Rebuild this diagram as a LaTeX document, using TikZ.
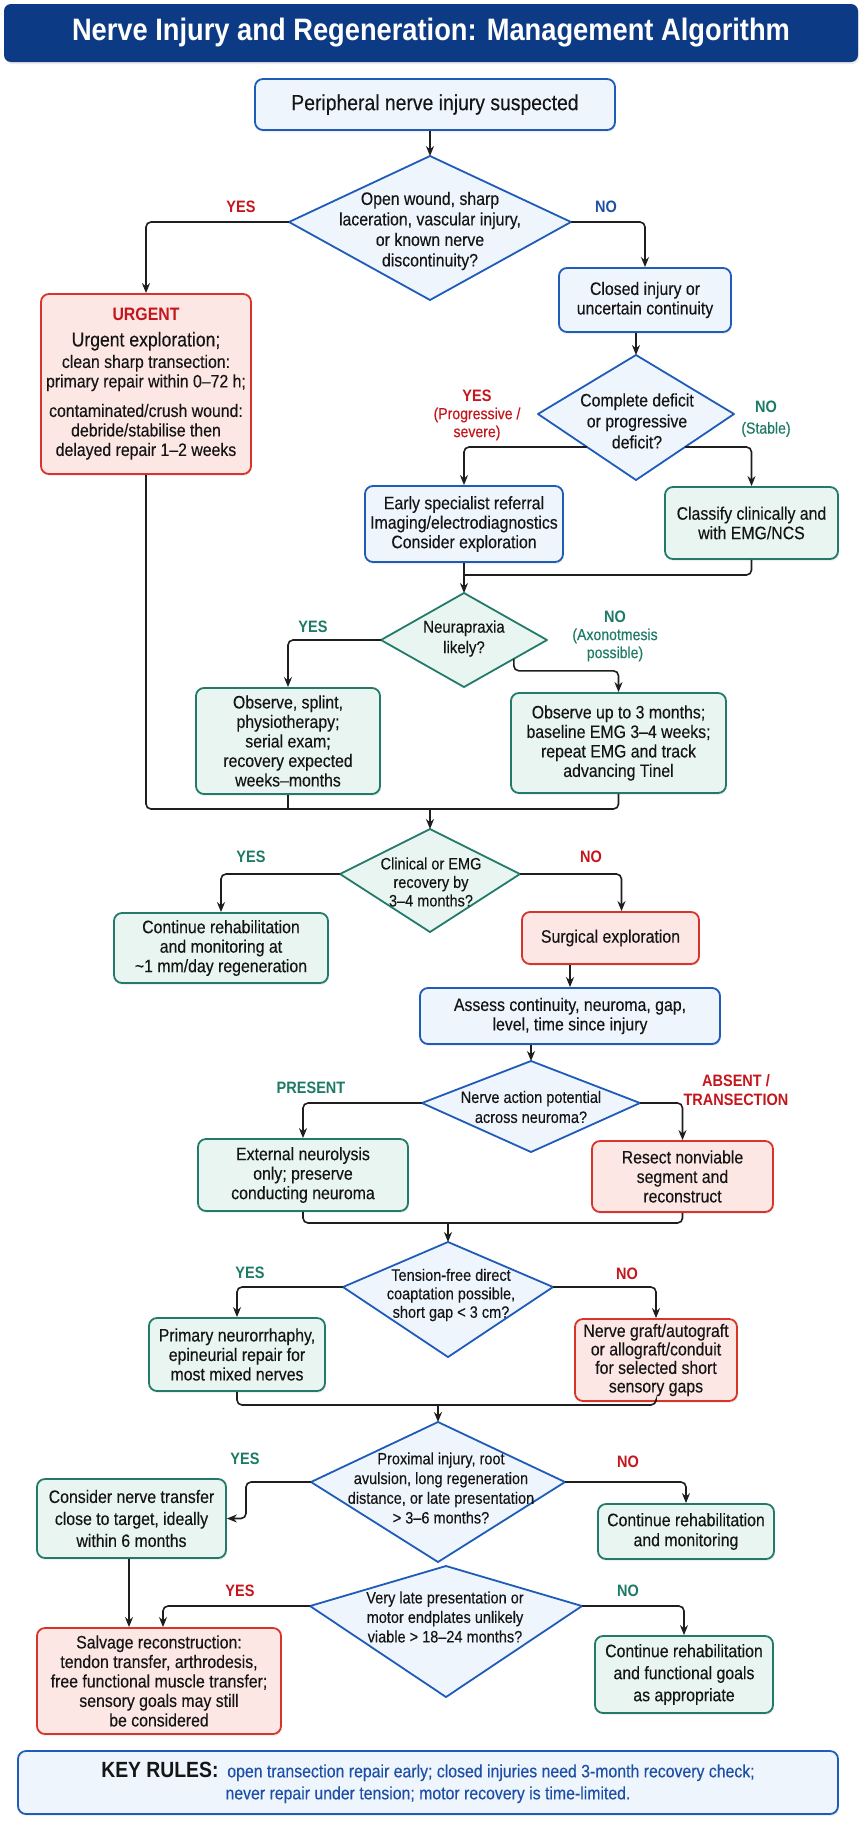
\documentclass[tikz,border=0pt]{standalone}
\usepackage{fontspec}
\setmainfont{Liberation Sans}[FakeStretch=0.88, UprightFeatures={FakeBold=0.25}]
\usetikzlibrary{arrows.meta,calc,shadows}
\definecolor{titleblue}{HTML}{0C3A84}
\definecolor{bline}{HTML}{1F5BB8}
\definecolor{bfill}{HTML}{EEF5FD}
\definecolor{rline}{HTML}{D8342C}
\definecolor{rfill}{HTML}{FCE7E4}
\definecolor{tline}{HTML}{237A6B}
\definecolor{tfill}{HTML}{E8F5F1}
\definecolor{lred}{HTML}{C4161C}
\definecolor{lteal}{HTML}{1D7A66}
\definecolor{lblue}{HTML}{1D4FA6}
\definecolor{txt}{HTML}{151515}
\definecolor{linec}{HTML}{1E1E1E}
\newcommand\fsz[2]{\fontsize{#1}{#2}\selectfont}
% name, cx, cy(of west/east points), half width, top y, bottom y, style
\newcommand\mykite[7]{%
  \coordinate (#1-n) at (#2,#5);
  \coordinate (#1-s) at (#2,#6);
  \coordinate (#1-w) at ({#2-#4},#3);
  \coordinate (#1-e) at ({#2+#4},#3);
  \draw[#7] (#1-n) -- (#1-e) -- (#1-s) -- (#1-w) -- cycle;
}
\begin{document}
\begin{tikzpicture}[x=1pt,y=-1pt,
  nbase/.style={rounded corners=8pt, line width=1.8pt, align=center, inner sep=3pt, text=txt, font=\fsz{18}{19.5},
    drop shadow={shadow xshift=1pt,shadow yshift=-2pt,opacity=0.12}},
  blubox/.style={nbase, draw=bline, fill=bfill},
  redbox/.style={nbase, draw=rline, fill=rfill},
  tealbox/.style={nbase, draw=tline, fill=tfill},
  dblue/.style={draw=bline, fill=bfill, line width=1.8pt, line join=round},
  dteal/.style={draw=tline, fill=tfill, line width=1.8pt, line join=round},
  dtext/.style={align=center, inner sep=0pt, text=txt, font=\fsz{16.5}{20}},
  lab/.style={align=center, inner sep=0pt, font=\bfseries\fsz{16.5}{18}},
  conn/.style={draw=linec, line width=1.6pt, rounded corners=5pt},
  arrw/.style={conn, -{Stealth[length=10pt,width=8pt]}}
]
\fill[white] (0,0) rectangle (864,1821);
\useasboundingbox (0,0) rectangle (864,1821);

% title
\node[fill=titleblue, rounded corners=7pt, minimum width=854pt, minimum height=58pt, text=white,
  font=\bfseries\fsz{31}{34}, inner sep=0pt, drop shadow={shadow xshift=1pt,shadow yshift=-2pt,opacity=0.15}]
  (title) at (431,33) {Nerve Injury and Regeneration: Management Algorithm};

% boxes
\node[blubox, minimum width=360pt, minimum height=51pt, font=\fsz{22}{24}] (P) at (435,104.5) {Peripheral nerve injury suspected};
\node[redbox, minimum width=210pt, minimum height=180pt] (U) at (146,384)
  {{\color{lred}\bfseries URGENT}\\[6pt]{\fsz{20}{21}Urgent exploration;}\\[2pt]clean sharp transection:\\primary repair within 0–72 h;\\[10pt]contaminated/crush wound:\\debride/stabilise then\\delayed repair 1–2 weeks};
\node[blubox, minimum width=172pt, minimum height=64pt] (C) at (645,300) {Closed injury or\\uncertain continuity};
\node[blubox, minimum width=198pt, minimum height=76pt] (E) at (464,524) {Early specialist referral\\Imaging/electrodiagnostics\\Consider exploration};
\node[tealbox, minimum width=173pt, minimum height=72pt] (Cl) at (751.5,523) {Classify clinically and\\with EMG/NCS};
\node[tealbox, minimum width=184pt, minimum height=106pt] (O) at (288,741) {Observe, splint,\\physiotherapy;\\serial exam;\\recovery expected\\weeks–months};
\node[tealbox, minimum width=215pt, minimum height=100pt] (OU) at (618.5,743) {Observe up to 3 months;\\baseline EMG 3–4 weeks;\\repeat EMG and track\\advancing Tinel};
\node[tealbox, minimum width=214pt, minimum height=70pt] (C1) at (221,948) {Continue rehabilitation\\and monitoring at\\\textasciitilde1 mm/day regeneration};
\node[redbox, minimum width=177pt, minimum height=52pt] (S) at (610.5,938) {Surgical exploration};
\node[blubox, minimum width=300pt, minimum height=56pt] (A) at (570,1016) {Assess continuity, neuroma, gap,\\level, time since injury};
\node[tealbox, minimum width=210pt, minimum height=72pt] (X) at (303,1175) {External neurolysis\\only; preserve\\conducting neuroma};
\node[redbox, minimum width=181pt, minimum height=71pt] (R) at (682.5,1176.5) {Resect nonviable\\segment and\\reconstruct};
\node[tealbox, minimum width=176pt, minimum height=73pt] (Pr) at (237,1354.5) {Primary neurorrhaphy,\\epineurial repair for\\most mixed nerves};
\node[redbox, minimum width=162pt, minimum height=82pt, font=\fsz{18}{18.5}] (G) at (656,1360) {Nerve graft/autograft\\or allograft/conduit\\for selected short\\sensory gaps};
\node[tealbox, minimum width=189pt, minimum height=79pt, font=\fsz{18}{22}] (T) at (131.5,1518.5) {Consider nerve transfer\\close to target, ideally\\within 6 months};
\node[tealbox, minimum width=176pt, minimum height=55pt, font=\fsz{18}{20}] (C2) at (686,1531.5) {Continue rehabilitation\\and monitoring};
\node[redbox, minimum width=244pt, minimum height=106pt] (Sal) at (159,1681) {Salvage reconstruction:\\tendon transfer, arthrodesis,\\free functional muscle transfer;\\sensory goals may still\\be considered};
\node[tealbox, minimum width=178pt, minimum height=77pt, font=\fsz{18}{22}] (C3) at (684,1674.5) {Continue rehabilitation\\and functional goals\\as appropriate};
\node[blubox, minimum width=820pt, minimum height=63pt, font=\fsz{18}{22}, text=lblue] (K) at (428,1782.5)
  {{\color{txt}\bfseries\fsz{22}{22}KEY RULES:}\ \ open transection repair early; closed injuries need 3-month recovery check;\\never repair under tension; motor recovery is time-limited.};

% decision shapes
\mykite{d1}{430}{222}{141}{156}{300}{dblue}
\node[dtext, font=\fsz{18}{20.5}] (t1) at (430,231) {Open wound, sharp\\laceration, vascular injury,\\or known nerve\\discontinuity?};
\mykite{d2}{636}{414}{98}{355}{480}{dblue}
\node[dtext, font=\fsz{18}{21}] (t2) at (637,421) {Complete deficit\\or progressive\\deficit?};
\mykite{d3}{464}{640}{83}{593}{687}{dteal}
\node[dtext, font=\fsz{17}{20.5}] (t3) at (464,638.5) {Neurapraxia\\likely?};
\mykite{d4}{430}{874}{90}{829}{932}{dteal}
\node[dtext, font=\fsz{16.5}{18.5}] (t4) at (431,882) {Clinical or EMG\\recovery by\\3–4 months?};
\mykite{d5}{531}{1103}{109}{1061}{1152}{dblue}
\node[dtext] (t5) at (531,1107) {Nerve action potential\\across neuroma?};
\mykite{d6}{448}{1287}{105}{1242}{1357}{dblue}
\node[dtext, font=\fsz{16.5}{18.5}] (t6) at (451,1295) {Tension-free direct\\coaptation possible,\\short gap < 3 cm?};
\mykite{d7}{438}{1482}{127}{1422}{1562}{dblue}
\node[dtext, font=\fsz{16.5}{19.7}] (t7) at (441,1488) {Proximal injury, root\\avulsion, long regeneration\\distance, or late presentation\\> 3–6 months?};
\mykite{d8}{446}{1606}{136}{1566}{1697}{dblue}
\node[dtext, font=\fsz{16.5}{19.5}] (t8) at (445,1617) {Very late presentation or\\motor endplates unlikely\\viable > 18–24 months?};

% branch labels
\node[lab, text=lred] (y1) at (241,207) {YES};
\node[lab, text=lblue] (n1) at (606,207) {NO};
\node[lab, text=lred] (y2) at (477,415) {YES\\{\mdseries\fsz{16}{18}(Progressive /}\\{\mdseries\fsz{16}{18}severe)}};
\node[lab, text=lteal] (n2) at (766,419) {NO\\[3pt]{\mdseries\fsz{16}{18}(Stable)}};
\node[lab, text=lteal] (y3) at (313,627) {YES};
\node[lab, text=lteal] (n3) at (615,636) {NO\\{\mdseries\fsz{16}{18}(Axonotmesis}\\{\mdseries\fsz{16}{18}possible)}};
\node[lab, text=lteal] (y4) at (251,857) {YES};
\node[lab, text=lred] (n4) at (591,857) {NO};
\node[lab, text=lteal] (y5) at (311,1088) {PRESENT};
\node[lab, text=lred, font=\bfseries\fsz{16.5}{19}] (n5) at (736,1090) {ABSENT /\\TRANSECTION};
\node[lab, text=lteal] (y6) at (250,1273) {YES};
\node[lab, text=lred] (n6) at (627,1274) {NO};
\node[lab, text=lteal] (y7) at (245,1459) {YES};
\node[lab, text=lred] (n7) at (628,1462) {NO};
\node[lab, text=lred] (y8) at (240,1591) {YES};
\node[lab, text=lteal] (n8) at (628,1591) {NO};

% connectors
\draw[arrw] (P.south -| d1-n) -- (d1-n);
\draw[arrw] (d1-w) -| (U.north);
\draw[arrw] (d1-e) -| (C.north);
\draw[arrw] (C.south -| d2-n) -- (d2-n);
\coordinate (d2sw) at ($(d2-w)!0.5!(d2-s)$);
\coordinate (d2se) at ($(d2-e)!0.5!(d2-s)$);
\draw[arrw] (d2sw) -| (E.north);
\draw[arrw] (d2se) -| (Cl.north);
\coordinate (m1) at (464,575);
\draw[conn] (E.south) -- (E.south |- m1);
\draw[conn] (Cl.south) |- (m1);
\draw[arrw] (m1) -- (d3-n);
\draw[arrw] (d3-w) -| (O.north);
\coordinate (d3se) at ($(d3-e)!0.4!(d3-s)$);
\draw[arrw] (d3se) -- ++(0,12) -| (OU.north);
\coordinate (m2) at (430,809);
\draw[conn] (U.south) |- (OU.south |- m2) -- (OU.south);
\draw[conn] (O.south) -- (O.south |- m2);
\draw[arrw] (m2) -- (d4-n);
\draw[arrw] (d4-w) -| (C1.north);
\draw[arrw] (d4-e) -| ([xshift=11pt]S.north);
\draw[arrw] (S.south -| A.north) -- (A.north);
\draw[arrw] (A.south -| d5-n) -- (d5-n);
\draw[arrw] (d5-w) -| (X.north);
\draw[arrw] (d5-e) -| (R.north);
\coordinate (m3) at (448,1223);
\draw[conn] (X.south) |- (R.south |- m3) -- (R.south);
\draw[arrw] (m3) -- (d6-n);
\draw[arrw] (d6-w) -| (Pr.north);
\draw[arrw] (d6-e) -| (G.north);
\coordinate (m4) at (438,1405);
\draw[conn] (Pr.south) |- (G.south |- m4) -- (G.south);
\draw[arrw] (m4) -- (d7-n);
\coordinate (k7) at (246,1518.5);
\draw[arrw] (d7-w) -| (k7) -- (T.east);
\draw[arrw] (d7-e) -| (C2.north);
\draw[arrw] ([xshift=-2.5pt]T.south) -- ([xshift=-2.5pt]T.south |- Sal.north);
\draw[arrw] (d8-w) -| ([xshift=4pt]Sal.north);
\draw[arrw] (d8-e) -| (C3.north);
\end{tikzpicture}
\end{document}
